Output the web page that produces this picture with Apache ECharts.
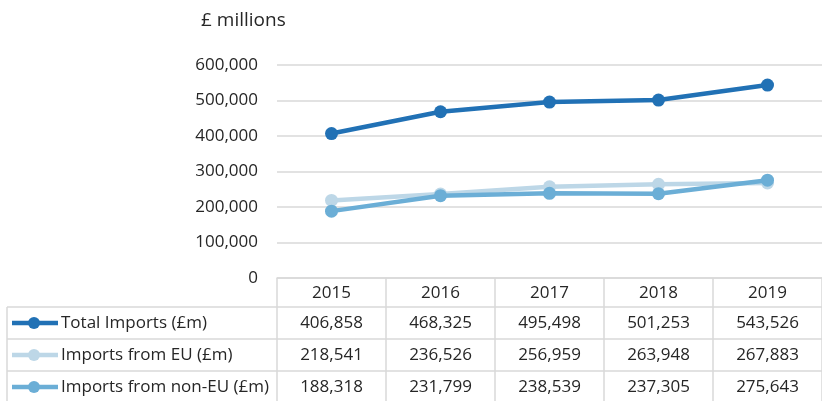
<!DOCTYPE html>
<html>
<head>
<meta charset="utf-8">
<script src="https://cdn.jsdelivr.net/npm/echarts@6/dist/echarts.min.js"></script>
<style>
  html, body { margin: 0; padding: 0; background: #fff; }
  #chart { width: 822px; height: 401px; }
</style>
</head>
<body>
<div id="chart"></div>
<script>
// UK imports, £ millions, 2015–2019
const years = ['2015', '2016', '2017', '2018', '2019'];
const seriesNames = ['Total Imports (£m)', 'Imports from EU (£m)', 'Imports from non-EU (£m)'];
const totalImports = [406858, 468325, 495498, 501253, 543526];
const euImports = [218541, 236526, 256959, 263948, 267883];
const nonEuImports = [188318, 231799, 238539, 237305, 275643];
const yTicks = [0, 100000, 200000, 300000, 400000, 500000, 600000];

const seriesValues = [totalImports, euImports, nonEuImports];
const colors = ['#2171b5', '#bdd7e7', '#6baed6'];
const FONT = '"Open Sans", sans-serif';
const TEXT = '#262626';
const RULE = '#d9d9d9';

const fmt = v => v.toLocaleString('en-GB');

const chart = echarts.init(document.getElementById('chart'), null, { renderer: 'canvas' });

const GRID = { left: 277, top: 65, width: 553, height: 213 };
const ROW_H = [29, 32, 32, 32]; // header row, then one row per series
const TABLE_LEFT = 7;

chart.setOption({
  animation: false,
  backgroundColor: '#fff',
  title: {
    text: '£ millions',
    left: 196, top: 6,
    textStyle: { fontFamily: FONT, fontSize: 19, fontWeight: 'normal', color: TEXT }
  },
  grid: GRID,
  xAxis: {
    type: 'category',
    data: years,
    boundaryGap: true,
    axisLine: { show: true, lineStyle: { color: RULE, width: 1.5 } },
    axisTick: { show: true, length: 130, lineStyle: { color: RULE, width: 1.5 } },
    axisLabel: {
      margin: 5, fontFamily: FONT, fontSize: 17, color: TEXT,
      lineHeight: 20
    },
    splitLine: { show: false }
  },
  yAxis: {
    type: 'value',
    min: yTicks[0],
    max: yTicks[yTicks.length - 1],
    interval: yTicks[1] - yTicks[0],
    axisLine: { show: false },
    axisTick: { show: false },
    axisLabel: { margin: 19, fontFamily: FONT, fontSize: 17, color: TEXT, formatter: v => fmt(v) },
    splitLine: { lineStyle: { color: RULE, width: 1.5 } }
  },
  series: seriesValues.map((vals, i) => ({
    name: seriesNames[i],
    type: 'line',
    data: vals,
    z: 2 + (i === 0 ? 3 : i),
    symbol: 'circle',
    symbolSize: 13,
    lineStyle: { color: colors[i], width: 4.5 },
    itemStyle: { color: colors[i] },
    emphasis: { disabled: true }
  }))
});

// Data table beneath the x axis, aligned with the category columns
function drawTable() {
  const axisY = chart.convertToPixel({ yAxisIndex: 0 }, 0);
  const right = 822;
  const els = [];
  let y = axisY + ROW_H[0];
  seriesValues.forEach((vals, i) => {
    // top border of this row
    els.push({
      type: 'line', silent: true,
      shape: { x1: TABLE_LEFT, y1: y, x2: right, y2: y },
      style: { stroke: RULE, lineWidth: 1.5 }
    });
    const mid = y + ROW_H[i + 1] / 2;
    // legend key
    els.push({
      type: 'line', silent: true,
      shape: { x1: 12, y1: mid, x2: 58, y2: mid },
      style: { stroke: colors[i], lineWidth: 4.5 }
    });
    els.push({
      type: 'circle', silent: true,
      shape: { cx: 34, cy: mid, r: 6 },
      style: { fill: colors[i] }
    });
    els.push({
      type: 'text', silent: true,
      x: 61, y: mid,
      style: { text: seriesNames[i], font: '17px ' + FONT, fill: TEXT, textVerticalAlign: 'middle', verticalAlign: 'middle' }
    });
    vals.forEach((v, j) => {
      const cx = chart.convertToPixel({ xAxisIndex: 0 }, years[j]);
      els.push({
        type: 'text', silent: true,
        x: cx, y: mid,
        style: { text: fmt(v), font: '17px ' + FONT, fill: TEXT, align: 'center', textAlign: 'center', verticalAlign: 'middle', textVerticalAlign: 'middle' }
      });
    });
    y += ROW_H[i + 1];
  });
  // outer left border of the series rows
  els.push({
    type: 'line', silent: true,
    shape: { x1: TABLE_LEFT, y1: axisY + ROW_H[0], x2: TABLE_LEFT, y2: 401 },
    style: { stroke: RULE, lineWidth: 1.5 }
  });
  chart.setOption({ graphic: els });
}
drawTable();
</script>
</body>
</html>
